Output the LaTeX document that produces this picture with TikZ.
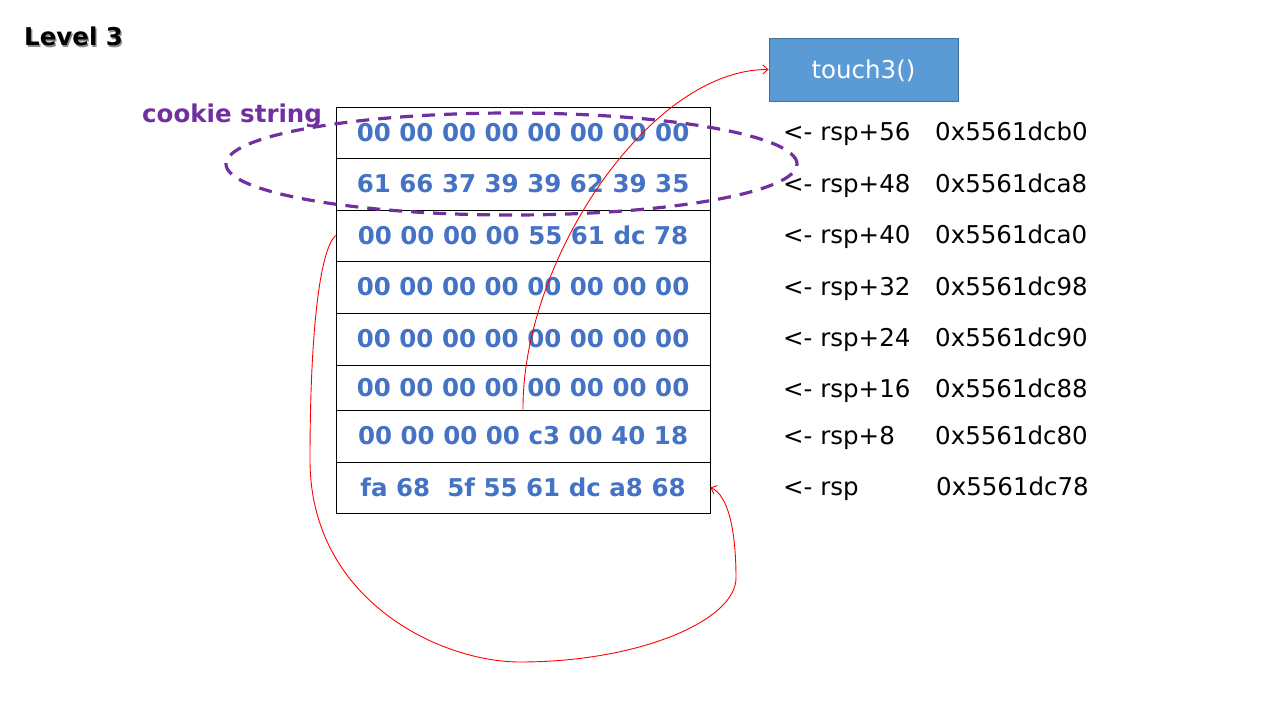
\documentclass[tikz,border=0pt]{standalone}
\usepackage{fontspec}
\setmainfont{DejaVu Sans}
\usetikzlibrary{arrows.meta,shapes.geometric}
\definecolor{hexblue}{HTML}{4472C4}
\definecolor{cookiepurple}{HTML}{7030A0}
\definecolor{touchfill}{HTML}{5B9BD5}
\definecolor{touchedge}{HTML}{41719C}
\tikzset{
  big/.style={font=\fontsize{24.5}{29}\selectfont},
  cell/.style={draw=black, line width=0.9pt, minimum width=374pt, inner sep=0pt,
    text=hexblue, font=\fontsize{24.5}{29}\selectfont\bfseries,
    text height=17.9pt, text depth=0pt},
  lbl/.style={anchor=west, inner sep=0pt, big, text=black, text height=17.9pt, text depth=0pt},
  link/.style={red, line width=0.9pt, -{Straight Barb[length=5pt,width=9pt]}}
}
\begin{document}
\begin{tikzpicture}[x=1pt,y=-1pt]
\useasboundingbox (0,0) rectangle (1266,704);
% title
\node[anchor=west, inner sep=0pt, text=black!45, font=\fontsize{24.5}{29}\selectfont\bfseries, text height=17.9pt, text depth=0pt] (titleshadow) at (25.3,38.3) {Level 3};
\node[anchor=west, inner sep=0pt, text=black, font=\fontsize{24.5}{29}\selectfont\bfseries, text height=17.9pt, text depth=0pt] (title) at (24,37) {Level 3};
% cookie label
\node[anchor=west, inner sep=0pt, text=cookiepurple, font=\fontsize{24.5}{29}\selectfont\bfseries, text height=17.9pt, text depth=0pt] (cookie) at (142,114) {cookie string};
% stack
\node[cell, minimum height=51pt] (r0) at (523,132.5) {00 00 00 00 00 00 00 00};
\node[cell, minimum height=52pt] (r1) at (523,184) {61 66 37 39 39 62 39 35};
\node[cell, minimum height=51pt] (r2) at (523,235.5) {00 00 00 00 55 61 dc 78};
\node[cell, minimum height=52pt] (r3) at (523,287) {00 00 00 00 00 00 00 00};
\node[cell, minimum height=52pt] (r4) at (523,339) {00 00 00 00 00 00 00 00};
\node[cell, minimum height=45pt] (r5) at (523,387.5) {00 00 00 00 00 00 00 00};
\node[cell, minimum height=52pt] (r6) at (523,436) {00 00 00 00 c3 00 40 18};
\node[cell, minimum height=51pt] (r7) at (523,487.5) {fa 68~~5f 55 61 dc a8 68};
% touch3 box
\node[draw=touchedge, fill=touchfill, line width=0.9pt, minimum width=189pt, minimum height=63pt,
  inner sep=0pt, big, text=white, text height=17.9pt, text depth=0pt] (touch) at (863.5,69.5) {touch3()};
% offsets and addresses
\node[lbl] (o0) at (783,132) {<- rsp+56};
\node[lbl] (o1) at (783,184) {<- rsp+48};
\node[lbl] (o2) at (783,235) {<- rsp+40};
\node[lbl] (o3) at (783,287) {<- rsp+32};
\node[lbl] (o4) at (783,338) {<- rsp+24};
\node[lbl] (o5) at (783,389) {<- rsp+16};
\node[lbl] (o6) at (783,436) {<- rsp+8};
\node[lbl] (o7) at (783,487) {<- rsp};
\node[lbl] (a0) at (935,132) {0x5561dcb0};
\node[lbl] (a1) at (935,184) {0x5561dca8};
\node[lbl] (a2) at (935,235) {0x5561dca0};
\node[lbl] (a3) at (935,287) {0x5561dc98};
\node[lbl] (a4) at (935,338) {0x5561dc90};
\node[lbl] (a5) at (935,389) {0x5561dc88};
\node[lbl] (a6) at (935,436) {0x5561dc80};
\node[lbl] (a7) at (936,487) {0x5561dc78};
% cookie ellipse
\node[ellipse, draw=cookiepurple, line width=3.2pt, dash pattern=on 13pt off 9pt,
  minimum width=571pt, minimum height=102pt, inner sep=0pt] (cookieellipse) at (511.5,164) {};
% arrows
\draw[link] (r6.north) .. controls (522,260) and (650,69) .. (touch.west);
\draw[link] (r2.west) .. controls (320,250) and (310,330) .. (310,460)
  .. controls (310,600) and (440,662) .. (520,662)
  .. controls (640,662) and (736,620) .. (736,578)
  .. controls (736,530) and (728,495) .. (r7.east);
\end{tikzpicture}
\end{document}
